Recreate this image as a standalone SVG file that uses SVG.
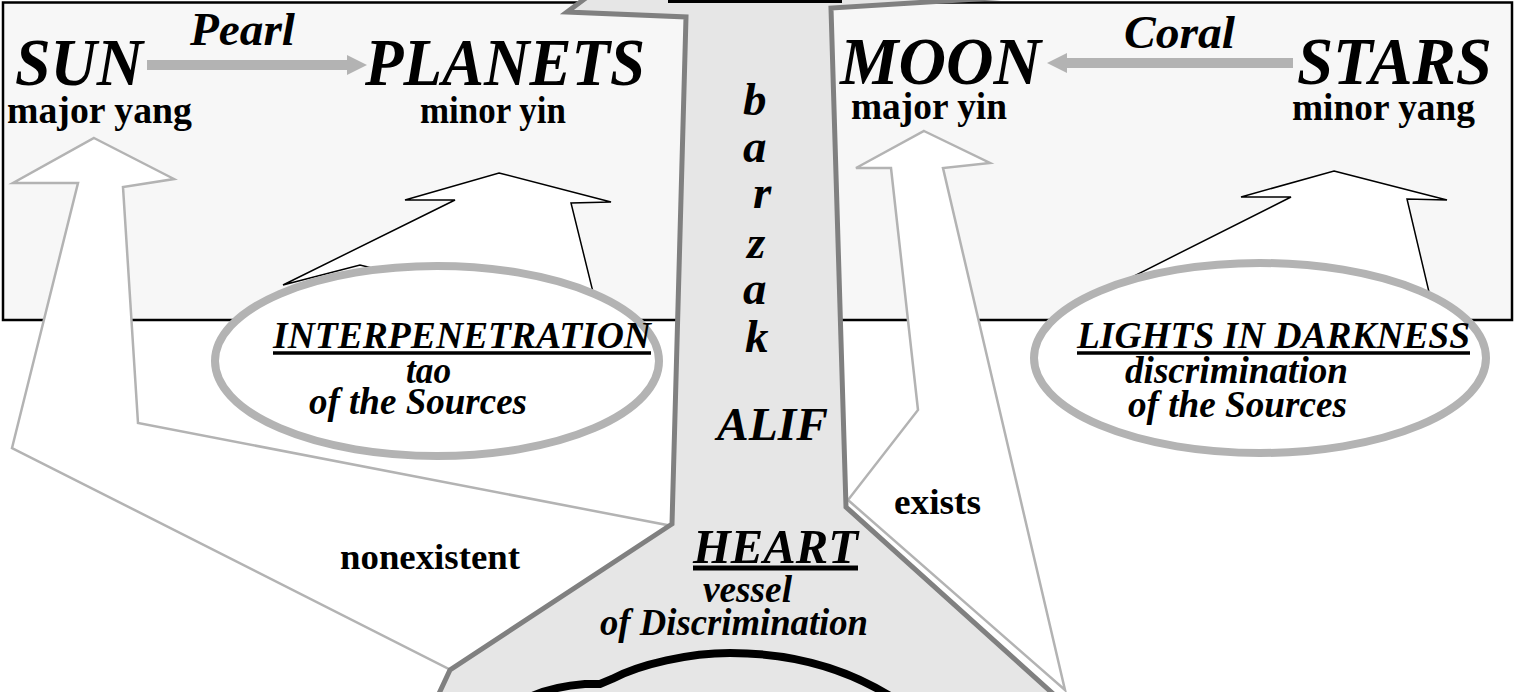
<svg xmlns="http://www.w3.org/2000/svg" width="1515" height="692" viewBox="0 0 1515 692">
<style>
.bi{font-family:"Liberation Serif","Times New Roman",serif;font-weight:bold;font-style:italic;fill:#000}
.b{font-family:"Liberation Serif","Times New Roman",serif;font-weight:bold;fill:#000}
.big{font-size:67px}
.mid{font-size:47px}
.sub{font-size:37px}
.ital{font-size:38px}
.ell{fill:#fff;stroke:#b3b3b3;stroke-width:8}
.garrow{fill:#fff;stroke:#b3b3b3;stroke-width:2.5;stroke-linejoin:miter}
.karrow{fill:#fff;stroke:#000;stroke-width:1.5;stroke-linejoin:miter}
.flow{stroke:#b3b3b3;stroke-width:10;fill:none}
.head{fill:#b3b3b3}
.ul{stroke:#000;stroke-width:3.5}
</style>
<rect x="0" y="0" width="1515" height="692" fill="#fff"/>
<g id="frame">
<rect x="3" y="2.5" width="1509" height="317.5" fill="#f7f7f7" stroke="#000" stroke-width="2.5"/>
</g>
<g id="connectors">
<polygon class="garrow" points="94,138 174,179 123,187 138,423 672,526 451,670 12,448 78,183 13,183"/>
<polygon class="garrow" points="924,131 990,163 943,168 1065,690 848,500 918,410 891,168 856,168"/>
<polygon class="karrow" points="499,173 611,202 571,203 593,292 500,300 360,265 283,285 455,200 405,200"/>
<polygon class="karrow" points="1334,171 1447,200 1407,199 1429,292 1300,300 1132,277 1291,197 1241,197"/>
<line class="flow" x1="147" y1="65" x2="350" y2="65"/>
<polygon class="head" points="347,55 367,65 347,75"/>
<line class="flow" x1="1293" y1="63" x2="1064" y2="63"/>
<polygon class="head" points="1067,53 1047,63 1067,73"/>
</g>
<g id="interpenetration">
<ellipse class="ell" cx="437" cy="361" rx="222" ry="95"/>
<text class="bi ital" x="273" y="348" textLength="378" lengthAdjust="spacingAndGlyphs">INTERPENETRATION</text>
<line class="ul" x1="273" y1="353" x2="651" y2="353"/>
<text class="bi ital" x="406" y="383" textLength="45" lengthAdjust="spacingAndGlyphs">tao</text>
<text class="bi ital" x="309" y="414" textLength="218" lengthAdjust="spacingAndGlyphs">of the Sources</text>
</g>
<g id="lights">
<ellipse class="ell" cx="1260" cy="358" rx="226" ry="95"/>
<text class="bi ital" x="1077" y="348" textLength="393" lengthAdjust="spacingAndGlyphs">LIGHTS IN DARKNESS</text>
<line class="ul" x1="1077" y1="353" x2="1470" y2="353"/>
<text class="bi ital" x="1125" y="383" textLength="223" lengthAdjust="spacingAndGlyphs">discrimination</text>
<text class="bi ital" x="1128" y="417" textLength="219" lengthAdjust="spacingAndGlyphs">of the Sources</text>
</g>
<g id="alif">
<polygon points="610,-20 567,12 686,17 672,524 450,670 436,700 1060,700 846,507 831,8 1090,-8" fill="#e6e6e6" stroke="#808080" stroke-width="5" stroke-linejoin="miter"/>
<line x1="668" y1="1.5" x2="842" y2="1.5" stroke="#000" stroke-width="3"/>
<text class="bi" font-size="47" x="743" y="115">b</text>
<text class="bi" font-size="47" x="743" y="162">a</text>
<text class="bi" font-size="47" x="753" y="208">r</text>
<text class="bi" font-size="47" x="747" y="258">z</text>
<text class="bi" font-size="47" x="743" y="304">a</text>
<text class="bi" font-size="47" x="745" y="352">k</text>
<text class="bi" font-size="47" x="717" y="440" textLength="111" lengthAdjust="spacingAndGlyphs">ALIF</text>
</g>
<g id="heart">
<text class="bi" font-size="48" x="693" y="563" textLength="165" lengthAdjust="spacingAndGlyphs">HEART</text>
<line x1="693" y1="568" x2="858" y2="568" stroke="#000" stroke-width="5"/>
<text class="bi ital" x="703" y="602" textLength="89" lengthAdjust="spacingAndGlyphs">vessel</text>
<text class="bi ital" x="600" y="635" textLength="268" lengthAdjust="spacingAndGlyphs">of Discrimination</text>
<path d="M 530 697 C 545 690 560 686 585 684 L 600 684 L 612 679 C 640 664 690 653 730 653 C 790 653 845 668 890 696" fill="none" stroke="#000" stroke-width="8"/>
</g>
<g id="sun">
<text class="bi big" x="15" y="85" textLength="128" lengthAdjust="spacingAndGlyphs">SUN</text>
<text class="b sub" x="7" y="123" textLength="185" lengthAdjust="spacingAndGlyphs">major yang</text>
</g>
<g id="planets">
<text class="bi big" x="365" y="85" textLength="280" lengthAdjust="spacingAndGlyphs">PLANETS</text>
<text class="b sub" x="420" y="123" textLength="146" lengthAdjust="spacingAndGlyphs">minor yin</text>
</g>
<g id="moon">
<text class="bi big" x="840" y="84" textLength="201" lengthAdjust="spacingAndGlyphs">MOON</text>
<text class="b sub" x="851" y="119" textLength="156" lengthAdjust="spacingAndGlyphs">major yin</text>
</g>
<g id="stars">
<text class="bi big" x="1297" y="84" textLength="195" lengthAdjust="spacingAndGlyphs">STARS</text>
<text class="b sub" x="1292" y="120" textLength="183" lengthAdjust="spacingAndGlyphs">minor yang</text>
</g>
<g id="labels">
<text class="bi mid" x="190" y="45" textLength="105" lengthAdjust="spacingAndGlyphs">Pearl</text>
<text class="bi mid" x="1124" y="48" textLength="111" lengthAdjust="spacingAndGlyphs">Coral</text>
<text class="b" font-size="36" x="894" y="514" textLength="87" lengthAdjust="spacingAndGlyphs">exists</text>
<text class="b" font-size="36" x="340" y="569" textLength="180" lengthAdjust="spacingAndGlyphs">nonexistent</text>
</g>
</svg>
